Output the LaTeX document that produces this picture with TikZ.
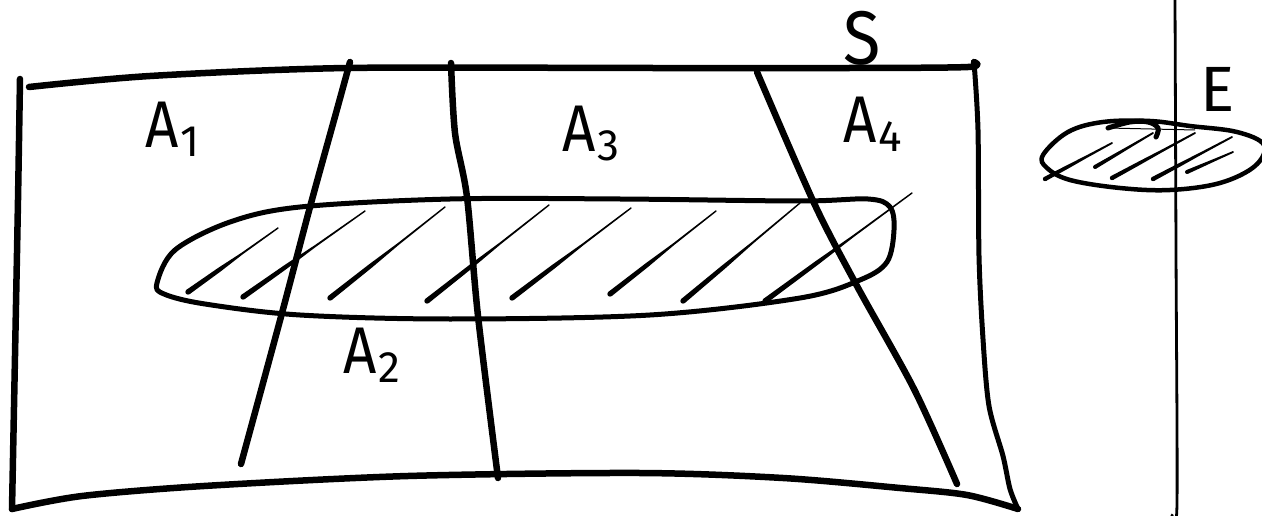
\documentclass[tikz,border=0pt]{standalone}
\usepackage{fontspec}
\usepackage{graphicx}
\setmainfont{Fira Sans}
\usetikzlibrary{calc}

% tapered pen stroke: thick at #1, thin at #2; #3 = thick half width, #4 = thin half width (pt)
\newcommand\hatchline[4]{%
  \coordinate (ha) at (#1);
  \coordinate (hb) at (#2);
  \coordinate (hm) at ($(ha)!0.35!(hb)$);
  \coordinate (hn) at ($(ha)!0.6!(hb)$);
  \pgfmathsetmacro\hwm{0.8*#3}%
  \pgfmathsetmacro\hwn{1.4*#4}%
  \fill ($(ha)!#3pt!90:(hb)$) -- ($(hm)!\hwm pt!90:(hb)$) -- ($(hn)!\hwn pt!90:(hb)$)
     -- ($(hb)!#4pt!-90:(ha)$) -- ($(hb)!#4pt!90:(ha)$)
     -- ($(hn)!\hwn pt!-90:(hb)$) -- ($(hm)!\hwm pt!-90:(hb)$) -- ($(ha)!#3pt!-90:(hb)$) -- cycle;
  \fill (ha) circle (#3pt);
  \fill (hb) circle (#4pt);
}
% letter A with a lowered index digit
\newcommand\sublabel[1]{\scalebox{0.88}[1]{A}\kern2pt\raisebox{-9pt}{\fontsize{44}{44}\selectfont #1}}

\begin{document}
\begin{tikzpicture}[x=1pt,y=-1pt,
  pen/.style={line width=6.5pt,line cap=round,line join=round},
  thinpen/.style={line width=4.5pt,line cap=round,line join=round},
  lbl/.style={inner sep=0pt,font=\fontsize{66}{66}\selectfont}]
\useasboundingbox (0,0) rectangle (1262,516);

% ---- the sample space S ----
\draw[pen] plot[smooth,tension=0.5] coordinates {(20,79) (18,200) (15,356) (12,509)};
\draw[pen] plot[smooth,tension=0.5] coordinates {(12,509) (82,496) (204,486) (408,476) (640,473) (783,478) (900,488) (967,495) (1018,509)};
\draw[thinpen,line width=5pt] plot[smooth,tension=0.5] coordinates {(974,62) (978,130) (979,256) (983,339) (989,406) (1003,456) (1010,489) (1018,509)};
\draw[pen] plot[smooth,tension=0.5] coordinates {(29,87) (150,76) (347,68) (640,68) (850,68) (968,67) (974,62)};

% ---- the partition lines ----
\draw[pen] plot[smooth,tension=0.5] coordinates {(350,62) (336,113) (310,207) (282,313) (241,464)};
\draw[pen] plot[smooth,tension=0.5] coordinates {(451,63) (455,133) (467,197) (478,316) (498,478)};
\draw[pen] plot[smooth,tension=0.5] coordinates {(757,72) (814,203) (857,286) (914,389) (957,484)};

% ---- the event inside S ----
\draw[thinpen,line width=5pt] plot[smooth cycle,tension=0.55] coordinates {
  (157,283) (175,250) (230,222) (300,207) (450,199) (620,199) (800,201) (868,199)
  (890,207) (894,230) (887,262) (860,280) (800,298) (650,315) (450,319) (300,315)
  (205,304) (164,294)};

\hatchline{188,292}{278,228}{2.7}{0.7}
\hatchline{243,297}{365,211}{2.7}{0.7}
\hatchline{330,298}{445,207}{2.7}{0.7}
\hatchline{427,301}{549,205}{2.7}{0.7}
\hatchline{512,298}{631,208}{2.7}{0.7}
\hatchline{610,294}{716,211}{2.7}{0.7}
\hatchline{683,301}{800,203}{2.7}{0.7}
\hatchline{765,301}{912,193}{2.7}{0.7}

% ---- labels ----
\node[lbl,anchor=base west] (a1) at (145,148) {\sublabel{1}};
\node[lbl,anchor=base west] (a2) at (343,373) {\sublabel{2}};
\node[lbl,anchor=base west] (a3) at (562,152) {\sublabel{3}};
\node[lbl,anchor=base west] (a4) at (843,143) {\sublabel{4}};
\node[inner sep=0pt,anchor=base,font=\fontsize{76}{76}\selectfont] (s) at (862,65) {\scalebox{0.9}[1]{S}};

% ---- the separate event E ----
\draw[line width=2.8pt,line cap=round] plot[smooth,tension=0.5] coordinates {(1175,-2) (1176,250) (1177,503) (1172,515)};
\draw[thinpen] plot[smooth cycle,tension=0.6] coordinates {
  (1043,155) (1068,132) (1103,122) (1150,121) (1190,126) (1237,132) (1264,145)
  (1255,166) (1220,183) (1170,190) (1120,188) (1070,180) (1047,168)};
\draw[line width=5pt,line cap=round] plot[smooth,tension=0.6] coordinates {(1108,128) (1130,122) (1148,122) (1158,128) (1156,137)};
\draw[line width=1pt] (1108,128) -- (1195,130);
\hatchline{1045,179}{1112,143}{2.2}{0.9}
\hatchline{1095,167}{1153,133}{2.0}{0.9}
\hatchline{1112,178}{1195,133}{2.2}{0.9}
\hatchline{1153,179}{1232,137}{2.2}{0.9}
\hatchline{1187,172}{1233,152}{2.0}{0.9}
\node[inner sep=0pt,anchor=base,font=\fontsize{64}{64}\selectfont] (e) at (1218,112) {E};
\end{tikzpicture}
\end{document}
